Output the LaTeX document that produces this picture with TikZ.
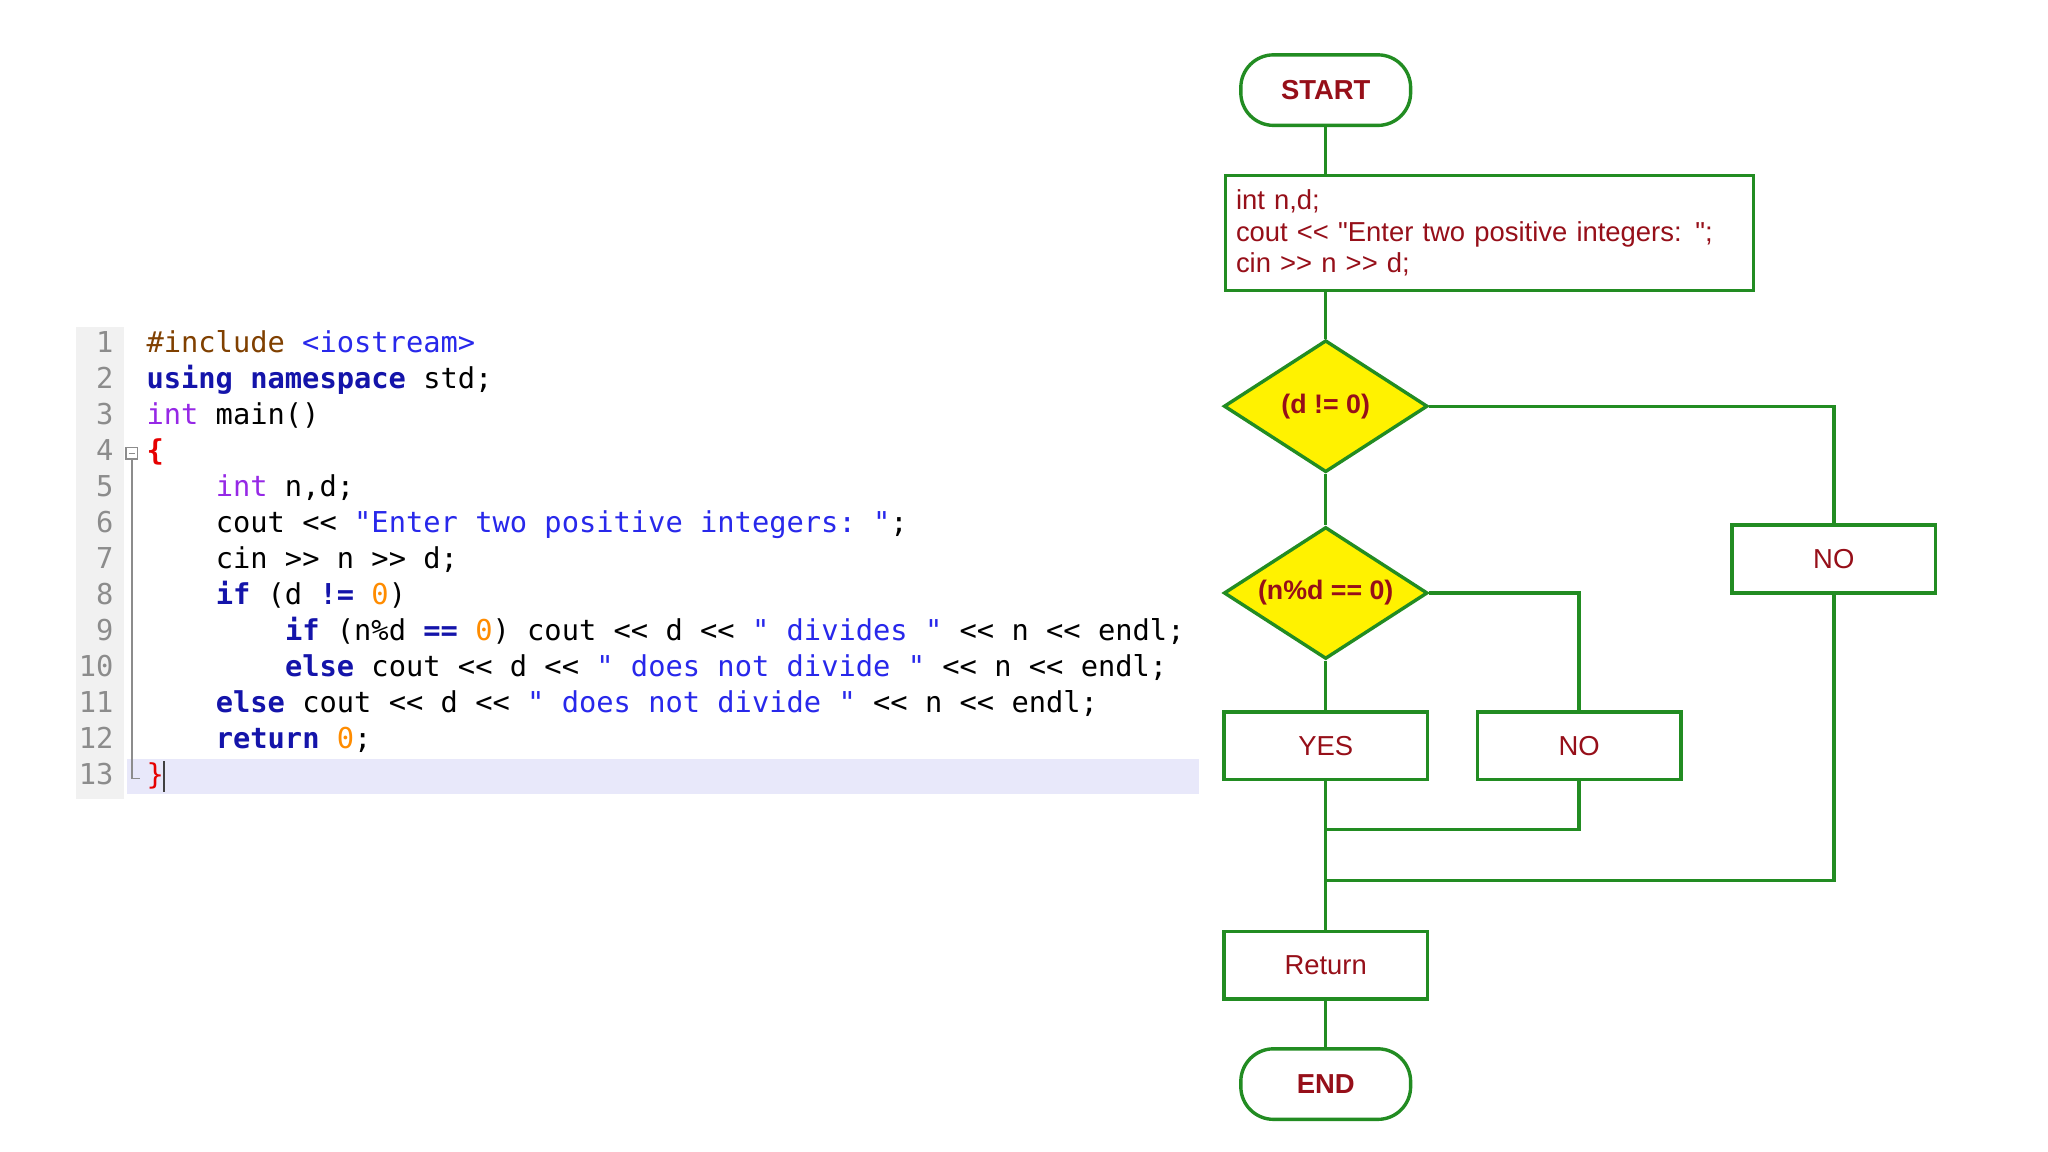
\documentclass[tikz,border=0pt]{standalone}
\usepackage{fontspec}
\setmonofont{DejaVu Sans Mono}
\newfontfamily\flowfont{Liberation Sans}
\usetikzlibrary{shapes.geometric}
\definecolor{fgreen}{RGB}{34,140,34}
\definecolor{fred}{RGB}{150,15,25}
\definecolor{prepc}{RGB}{128,64,0}
\definecolor{kwc}{RGB}{20,20,170}
\definecolor{tyc}{RGB}{150,40,230}
\definecolor{stc}{RGB}{40,40,235}
\definecolor{nuc}{RGB}{255,140,0}
\definecolor{brc}{RGB}{230,0,0}
\definecolor{lnumc}{RGB}{140,140,140}
\definecolor{lav}{RGB}{232,232,250}
\definecolor{gut}{RGB}{241,241,241}
\newcommand\cKW[1]{\textcolor{kwc}{\textbf{#1}}}
\newcommand\cTY[1]{\textcolor{tyc}{#1}}
\newcommand\cST[1]{\textcolor{stc}{#1}}
\newcommand\cNU[1]{\textcolor{nuc}{#1}}
\begin{document}
\begin{tikzpicture}[x=1pt,y=-1pt,
  code/.style={inner sep=0pt, font=\ttfamily\fontsize{22}{26}\selectfont},
  lnum/.style={code, text=lnumc},
  conn/.style={draw=fgreen, line width=2.6pt},
  fbox/.style={draw=fgreen, line width=2.6pt, fill=white, inner sep=0pt, minimum width=156pt, minimum height=52pt, text=fred, font=\flowfont\fontsize{21}{24}\selectfont},
  term/.style={fbox, rounded corners=25pt, minimum width=130pt, minimum height=54pt, font=\flowfont\bfseries\fontsize{21}{24}\selectfont},
  dec/.style={diamond, draw=fgreen, line width=2.6pt, fill=yellow, inner sep=0pt, aspect=1.55, minimum width=156pt, minimum height=101pt, text=fred, font=\flowfont\bfseries\fontsize{20.5}{24}\selectfont}]
\useasboundingbox (0,0) rectangle (1568,882);
\fill[white] (0,0) rectangle (1568,882);
% code panel
\fill[gut] (58,250) rectangle (95,612);
\fill[lav] (97,581) rectangle (918,608);
\draw[lnumc, line width=1pt] (96.5,342.5) rectangle (105.5,351.5);
\draw[lnumc, line width=1pt] (98.5,347) -- (103.5,347);
\draw[lnumc, line width=1pt] (101,351.5) -- (101,596) -- (107,596);
\draw[black!75, line width=1pt] (125.5,583) -- (125.5,606);
% line numbers
\node[lnum, anchor=base east] (n1) at (87,270) {1};
\node[lnum, anchor=base east] (n2) at (87,297.6) {2};
\node[lnum, anchor=base east] (n3) at (87,325.2) {3};
\node[lnum, anchor=base east] (n4) at (87,352.7) {4};
\node[lnum, anchor=base east] (n5) at (87,380.3) {5};
\node[lnum, anchor=base east] (n6) at (87,407.9) {6};
\node[lnum, anchor=base east] (n7) at (87,435.5) {7};
\node[lnum, anchor=base east] (n8) at (87,463.1) {8};
\node[lnum, anchor=base east] (n9) at (87,490.6) {9};
\node[lnum, anchor=base east] (n10) at (87,518.2) {10};
\node[lnum, anchor=base east] (n11) at (87,545.8) {11};
\node[lnum, anchor=base east] (n12) at (87,573.4) {12};
\node[lnum, anchor=base east] (n13) at (87,601.0) {13};
% code lines
\node[code, anchor=base west] (l1) at (112,270) {\textcolor{prepc}{\#include} \cST{<iostream>}};
\node[code, anchor=base west] (l2) at (112,297.6) {\cKW{using} \cKW{namespace} std;};
\node[code, anchor=base west] (l3) at (112,325.2) {\cTY{int} main()};
\node[code, anchor=base west] (l4) at (112,352.7) {\textcolor{brc}{\textbf{\{}}};
\node[code, anchor=base west] (l5) at (165,380.3) {\cTY{int} n,d;};
\node[code, anchor=base west] (l6) at (165,407.9) {cout << \cST{"Enter two positive integers: "};};
\node[code, anchor=base west] (l7) at (165,435.5) {cin >> n >> d;};
\node[code, anchor=base west] (l8) at (165,463.1) {\cKW{if} (d \cKW{!=} \cNU{0})};
\node[code, anchor=base west] (l9) at (218,490.6) {\cKW{if} (n\%d \cKW{==} \cNU{0}) cout << d << \cST{" divides "} << n << endl;};
\node[code, anchor=base west] (l10) at (218,518.2) {\cKW{else} cout << d << \cST{" does not divide "} << n << endl;};
\node[code, anchor=base west] (l11) at (165,545.8) {\cKW{else} cout << d << \cST{" does not divide "} << n << endl;};
\node[code, anchor=base west] (l12) at (165,573.4) {\cKW{return} \cNU{0};};
\node[code, anchor=base west] (l13) at (112,601.0) {\textcolor{brc}{\}}};
% flowchart nodes
\node[term] (start) at (1015,69) {START};
\node[fbox, anchor=north west, minimum width=404pt, minimum height=88pt, text width=388pt, inner xsep=8pt, align=left] (proc) at (937,133) {int n,d;\\cout << "Enter two positive integers: ";\\cin >> n >> d;};
\node[dec] (d1) at (1015,311) {(d != 0)};
\node[dec] (d2) at (1015,454) {(n\%d == 0)};
\node[fbox] (noR) at (1404,428) {NO};
\node[fbox] (yes) at (1015,571) {YES};
\node[fbox] (no2) at (1209,571) {NO};
\node[fbox] (ret) at (1015,739) {Return};
\node[term] (end) at (1015,830) {END};
\coordinate (j1) at (1015,635);
\coordinate (j2) at (1015,674);
% connectors
\draw[conn] (start.south) -- (start.south |- proc.north);
\draw[conn] (d1.north |- proc.south) -- (d1.north);
\draw[conn] (d1.south) -- (d2.north);
\draw[conn] (d1.east) -| (noR.north);
\draw[conn] (d2.east) -| (no2.north);
\draw[conn] (d2.south) -- (yes.north);
\draw[conn] (yes.south) -- (ret.north);
\draw[conn] (no2.south) |- (j1);
\draw[conn] (noR.south) |- (j2);
\draw[conn] (ret.south) -- (end.north);
\end{tikzpicture}
\end{document}
